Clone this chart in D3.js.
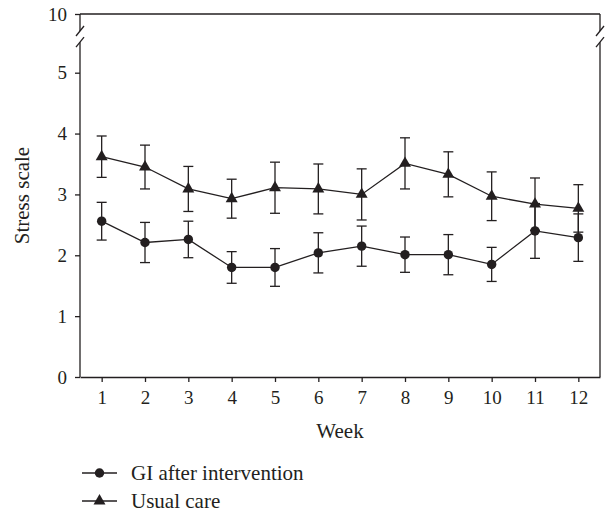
<!DOCTYPE html>
<html lang="en">
  <head>
    <meta charset="utf-8">
    <title>Stress scale by week</title>
    <script src="https://d3js.org/d3.v7.min.js"></script>
    <style>
      body { margin: 0; background: #fff; }
      text { font-family: "Liberation Serif", "Times New Roman", serif; fill: #231f20; }
    </style>
  </head>
  <body>
    <div id="chart"></div>
    <script>
      // data
      var weeks = [1, 2, 3, 4, 5, 6, 7, 8, 9, 10, 11, 12];
      var giMean = [2.56, 2.21, 2.26, 1.80, 1.80, 2.04, 2.15, 2.01, 2.01, 1.85, 2.40, 2.29];
      var giErr = [0.31, 0.33, 0.30, 0.26, 0.31, 0.33, 0.33, 0.29, 0.33, 0.28, 0.45, 0.39];
      var ucMean = [3.62, 3.45, 3.09, 2.93, 3.11, 3.09, 3.00, 3.51, 3.33, 2.97, 2.84, 2.77];
      var ucErr = [0.34, 0.36, 0.37, 0.32, 0.42, 0.41, 0.42, 0.42, 0.37, 0.40, 0.43, 0.39];
      var yTicks = [0, 1, 2, 3, 4, 5, 10];
      var seriesNames = ["GI after intervention", "Usual care"];

      var width = 606, height = 514;
      var plotLeft = 80, plotRight = 600, plotTop = 14, plotBottom = 377;
      var ink = "#231f20";

      var svg = d3.select("#chart").append("svg")
          .attr("width", width)
          .attr("height", height);

      // x: weeks, half a step of room on each side
      var x = d3.scaleLinear().domain([0.5, 12.5]).range([plotLeft, plotRight]);
      // y: broken axis, 0-5 stretched, 5-10 squeezed
      var y = d3.scaleLinear().domain([0, 5, 10]).range([plotBottom, 72.7, plotTop]);
      var breakLo = y(7.6), breakHi = y(8.55);

      // y axis (ticks and labels only, the line is drawn with its break)
      var yAxis = svg.append("g")
          .attr("transform", "translate(" + plotLeft + ",0)")
          .call(d3.axisLeft(y).tickValues(yTicks).tickSize(5).tickPadding(8).tickFormat(d3.format("d")));
      yAxis.select(".domain").remove();
      yAxis.selectAll("line").attr("stroke", ink).attr("stroke-width", 1.3);
      yAxis.selectAll("text").attr("font-size", 19).attr("fill", ink);

      // x axis
      var xAxis = svg.append("g")
          .attr("transform", "translate(0," + plotBottom + ")")
          .call(d3.axisBottom(x).tickValues(weeks).tickSize(5).tickSizeOuter(0).tickPadding(9));
      xAxis.select(".domain").attr("stroke", ink).attr("stroke-width", 1.3);
      xAxis.selectAll("line").attr("stroke", ink).attr("stroke-width", 1.3);
      xAxis.selectAll("text").attr("font-size", 19).attr("fill", ink);

      // frame: top line, left and right lines with break marks
      var frame = svg.append("g").attr("stroke", ink).attr("stroke-width", 1.3).attr("fill", "none");
      frame.append("line").attr("x1", plotLeft).attr("x2", plotRight).attr("y1", plotTop).attr("y2", plotTop);
      [plotLeft, plotRight].forEach(function(xx) {
        frame.append("line").attr("x1", xx).attr("x2", xx).attr("y1", plotTop).attr("y2", breakHi);
        frame.append("line").attr("x1", xx).attr("x2", xx).attr("y1", breakLo).attr("y2", plotBottom);
        [breakHi, breakLo].forEach(function(yy) {
          frame.append("line")
              .attr("x1", xx - 4).attr("y1", yy + 5)
              .attr("x2", xx + 4).attr("y2", yy - 5);
        });
      });

      // axis titles
      svg.append("text")
          .attr("x", (plotLeft + plotRight) / 2)
          .attr("y", 431)
          .attr("text-anchor", "middle")
          .attr("dominant-baseline", "central")
          .attr("font-size", 21)
          .text("Week");
      svg.append("text")
          .attr("transform", "translate(22," + (plotTop + plotBottom) / 2 + ") rotate(-90)")
          .attr("text-anchor", "middle")
          .attr("dominant-baseline", "central")
          .attr("font-size", 21)
          .text("Stress scale");

      var series = [
        {name: seriesNames[0], mean: giMean, err: giErr, symbol: d3.symbolCircle, size: 70},
        {name: seriesNames[1], mean: ucMean, err: ucErr, symbol: d3.symbolTriangle, size: 62}
      ];

      var line = d3.line()
          .x(function(d) { return x(d.week); })
          .y(function(d) { return y(d.mean); });

      series.forEach(function(s) {
        var pts = weeks.map(function(w, i) { return {week: w, mean: s.mean[i], err: s.err[i]}; });
        var g = svg.append("g");

        // error bars
        var eb = g.selectAll(".err").data(pts).enter().append("g")
            .attr("stroke", ink).attr("stroke-width", 1.3);
        eb.append("line")
            .attr("x1", function(d) { return x(d.week); })
            .attr("x2", function(d) { return x(d.week); })
            .attr("y1", function(d) { return y(d.mean + d.err); })
            .attr("y2", function(d) { return y(d.mean - d.err); });
        eb.append("line")
            .attr("x1", function(d) { return x(d.week) - 5; })
            .attr("x2", function(d) { return x(d.week) + 5; })
            .attr("y1", function(d) { return y(d.mean + d.err); })
            .attr("y2", function(d) { return y(d.mean + d.err); });
        eb.append("line")
            .attr("x1", function(d) { return x(d.week) - 5; })
            .attr("x2", function(d) { return x(d.week) + 5; })
            .attr("y1", function(d) { return y(d.mean - d.err); })
            .attr("y2", function(d) { return y(d.mean - d.err); });

        g.append("path")
            .datum(pts)
            .attr("fill", "none")
            .attr("stroke", ink)
            .attr("stroke-width", 1.3)
            .attr("d", line);

        g.selectAll(".pt").data(pts).enter().append("path")
            .attr("class", "pt")
            .attr("transform", function(d) { return "translate(" + x(d.week) + "," + y(d.mean) + ")"; })
            .attr("fill", ink)
            .attr("d", d3.symbol().type(s.symbol).size(s.size));
      });

      // legend
      var legend = svg.append("g");
      series.forEach(function(s, i) {
        var ly = 473 + i * 28;
        legend.append("line")
            .attr("x1", 82).attr("x2", 117)
            .attr("y1", ly).attr("y2", ly)
            .attr("stroke", ink).attr("stroke-width", 1.3);
        legend.append("path")
            .attr("transform", "translate(99.5," + ly + ")")
            .attr("fill", ink)
            .attr("d", d3.symbol().type(s.symbol).size(s.size));
        legend.append("text")
            .attr("x", 131)
            .attr("y", ly)
            .attr("dominant-baseline", "central")
            .attr("font-size", 21)
            .text(s.name);
      });
    </script>
  </body>
</html>
